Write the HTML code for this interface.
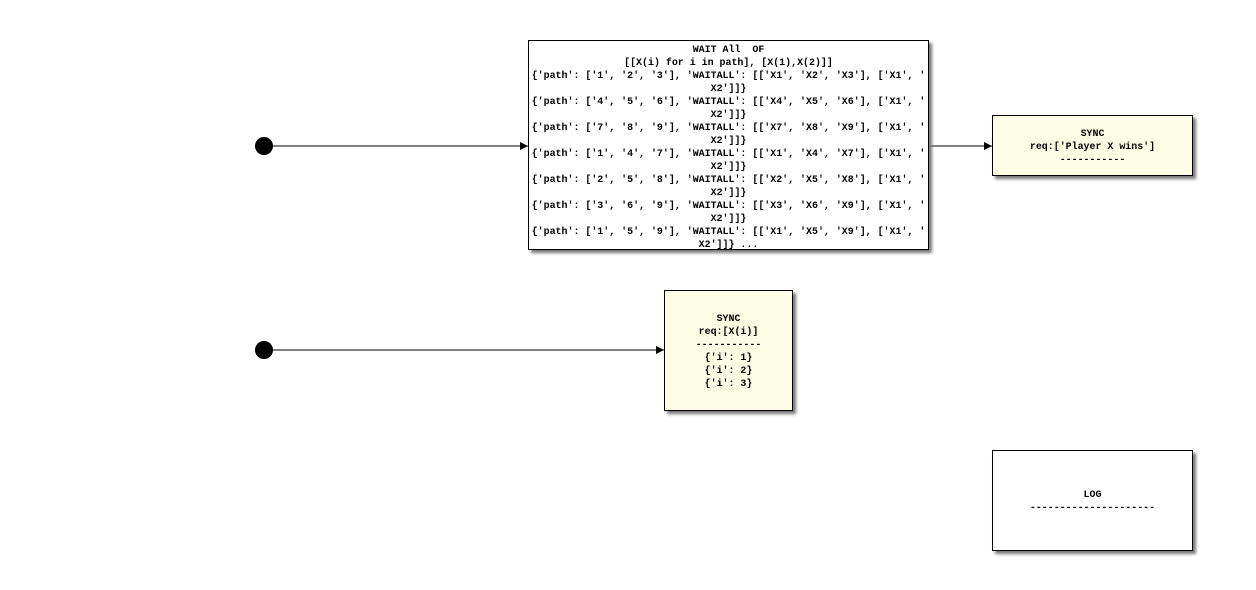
<!DOCTYPE html>
<html><head><meta charset="utf-8"><style>
body{margin:0;width:1256px;height:590px;background:#fff;position:relative;overflow:hidden;font-family:"Liberation Mono",monospace;font-weight:bold;font-size:9.95px;color:#000}
.b{position:absolute;border:1px solid #000;box-shadow:3px 3px 3px #777;box-sizing:border-box}
.t{position:absolute;left:-10px;right:-10px;text-align:center;white-space:pre;line-height:13px}
.d{position:absolute;width:18px;height:18px;border-radius:50%;background:#000}
</style></head><body>
<svg width="1256" height="590" style="position:absolute;left:0;top:0">
<defs><marker id="a" markerWidth="8" markerHeight="8" refX="8" refY="4" orient="auto" markerUnits="userSpaceOnUse"><path d="M0,0L8,4L0,8z"/></marker></defs>
<line x1="264" y1="146" x2="528" y2="146" stroke="#000" marker-end="url(#a)"/>
<line x1="929" y1="146" x2="992" y2="146" stroke="#000" marker-end="url(#a)"/>
<line x1="264" y1="350" x2="664" y2="350" stroke="#000" marker-end="url(#a)"/>
</svg>
<div class="d" style="left:255px;top:137px"></div>
<div class="d" style="left:255px;top:341px"></div>
<div class="b" style="left:528px;top:40px;width:401px;height:210px;background:#fff">
<div class="t" style="top:2px">WAIT All  OF
[[X(i) for i in path], [X(1),X(2)]]
{'path': ['1', '2', '3'], 'WAITALL': [['X1', 'X2', 'X3'], ['X1', '
X2']]}
{'path': ['4', '5', '6'], 'WAITALL': [['X4', 'X5', 'X6'], ['X1', '
X2']]}
{'path': ['7', '8', '9'], 'WAITALL': [['X7', 'X8', 'X9'], ['X1', '
X2']]}
{'path': ['1', '4', '7'], 'WAITALL': [['X1', 'X4', 'X7'], ['X1', '
X2']]}
{'path': ['2', '5', '8'], 'WAITALL': [['X2', 'X5', 'X8'], ['X1', '
X2']]}
{'path': ['3', '6', '9'], 'WAITALL': [['X3', 'X6', 'X9'], ['X1', '
X2']]}
{'path': ['1', '5', '9'], 'WAITALL': [['X1', 'X5', 'X9'], ['X1', '
X2']]} ...</div></div>
<div class="b" style="left:992px;top:115px;width:201px;height:61px;background:#fefee6">
<div class="t" style="top:11px">SYNC
req:['Player X wins']
-----------</div></div>
<div class="b" style="left:664px;top:290px;width:129px;height:121px;background:#fefee6">
<div class="t" style="top:21px">SYNC
req:[X(i)]
-----------
{'i': 1}
{'i': 2}
{'i': 3}</div></div>
<div class="b" style="left:992px;top:450px;width:201px;height:101px;background:#fff">
<div class="t" style="top:37px">LOG
---------------------</div></div>
</body></html>
